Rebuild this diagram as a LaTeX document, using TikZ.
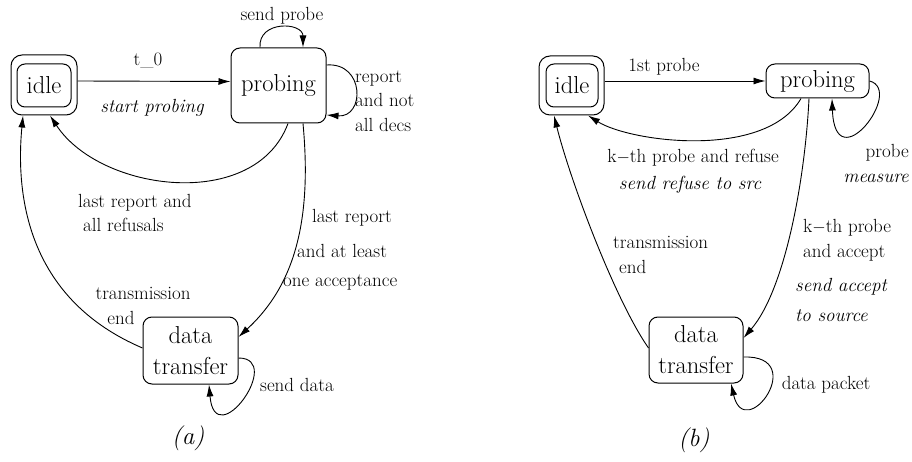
\documentclass[tikz,border=0pt]{standalone}
\usetikzlibrary{arrows.meta}
\begin{document}
\begin{tikzpicture}[x=1pt,y=-1pt,
  box/.style={draw,line width=1pt,rounded corners=9pt,inner sep=0pt,font=\fontsize{24.5}{31}\selectfont,align=center},
  arr/.style={-{Latex[length=12pt,width=7pt]},line width=0.9pt},
  lbl/.style={font=\fontsize{19}{24.5}\selectfont,inner sep=0pt,align=left},
  ilbl/.style={font=\fontsize{19}{24.5}\selectfont\itshape,inner sep=0pt,align=left},
  figcap/.style={font=\fontsize{25}{30}\selectfont\itshape,inner sep=0pt}]
\useasboundingbox (0,0) rectangle (912,462);
% ---------------- (a) ----------------
\node[box,minimum width=66pt,minimum height=60pt,rounded corners=11pt] (idleA) at (44,85) {};
\node[box,minimum width=54pt,minimum height=43pt,rounded corners=8pt] (idleAin) at (44,85.5) {idle};
\node[box,minimum width=95pt,minimum height=75pt] (probA) at (278.5,85.5) {probing};
\node[box,minimum width=95pt,minimum height=67pt] (dataA) at (190.5,350.5) {data\\transfer};

\draw[arr] ([yshift=4pt]idleA.east) -- ([yshift=4pt]probA.west);
\node[lbl] (lt0) at (148,60) {t\_0};
\node[ilbl] (lsp) at (152,108) {start probing};

\draw[arr] ([xshift=-18.5pt]probA.north) .. controls (258,20) and (303,22) .. ([xshift=24.5pt]probA.north);
\node[lbl] (lsendp) at (282,16) {send probe};

\draw[arr] ([yshift=20.5pt]probA.east) .. controls (365,62) and (365,118) .. ([yshift=-29.5pt]probA.east);
\node[lbl,anchor=west] (lrep) at (355,101) {report\\and not\\all decs};

\draw[arr] ([xshift=9.5pt]probA.south) .. controls (255,212) and (100,192) .. ([xshift=6pt]idleA.south);
\node[lbl,anchor=west] (lall) at (78,213) {last report and\\\hspace{5pt}all refusals};

\draw[arr] ([xshift=24.5pt]probA.south) .. controls (312,220) and (295,285) .. ([yshift=13.5pt]dataA.east);
\node[lbl,anchor=west] (llr1) at (312,218) {last report};
\node[lbl,anchor=west] (llr2) at (297,251) {and at least};
\node[lbl,anchor=west] (llr3) at (283,283) {one acceptance};

\draw[arr] ([yshift=2.5pt]dataA.west) .. controls (30,300) and (15,200) .. ([xshift=-21pt]idleA.south);
\node[lbl] (ltr1) at (143,293) {transmission};
\node[lbl] (ltr2) at (121,318) {end};

\draw[arr] ([yshift=-7.5pt]dataA.east) .. controls (285,358) and (215,455) .. ([xshift=18.5pt]dataA.south);
\node[lbl,anchor=west] (lsd) at (260,385) {send data};

\node[figcap] (capa) at (188,438) {(a)};

% ---------------- (b) ----------------
\node[box,minimum width=65pt,minimum height=59pt,rounded corners=11pt] (idleB) at (571.5,85.5) {};
\node[box,minimum width=52pt,minimum height=43pt,rounded corners=8pt] (idleBin) at (572,85.5) {idle};
\node[box,minimum width=103pt,minimum height=34pt] (probB) at (817.5,81) {probing};
\node[box,minimum width=94pt,minimum height=66pt] (dataB) at (696,350) {data\\transfer};

\draw[arr] ([yshift=4.5pt]idleB.east) -- (probB.west);
\node[lbl] (l1st) at (664,67) {1st probe};

\draw[arr] ([xshift=-16.5pt]probB.south) .. controls (765,160) and (630,142) .. ([xshift=16.5pt]idleB.south);
\node[lbl] (lkr) at (693,158) {k$-$th probe and refuse};
\node[ilbl] (lsr) at (690,185) {send refuse to src};

\draw[arr] (probB.east) .. controls (905,90) and (835,182) .. ([xshift=14.5pt]probB.south);
\node[lbl,anchor=east,align=right] (lpm) at (909,163.5) {probe\\\textit{measure}};

\draw[arr] ([xshift=-8.5pt]probB.south) .. controls (805,180) and (785,290) .. ([yshift=12pt]dataB.east);
\node[lbl,anchor=west] (lka) at (803,240.5) {k$-$th probe\\and accept};
\node[ilbl,anchor=west] (lsa) at (795,300) {send accept\\[5.5pt]to source};

\draw[arr] ([yshift=2pt]dataB.west) .. controls (615,300) and (570,180) .. ([xshift=-17.5pt]idleB.south);
\node[lbl,anchor=west] (ltb) at (613,255) {transmission\\\hspace{6pt}end};

\draw[arr] ([yshift=-7pt]dataB.east) .. controls (810,355) and (745,445) .. ([xshift=35pt]dataB.south);
\node[lbl] (ldp) at (826,385) {data packet};

\node[figcap] (capb) at (694,440) {(b)};
\end{tikzpicture}
\end{document}
